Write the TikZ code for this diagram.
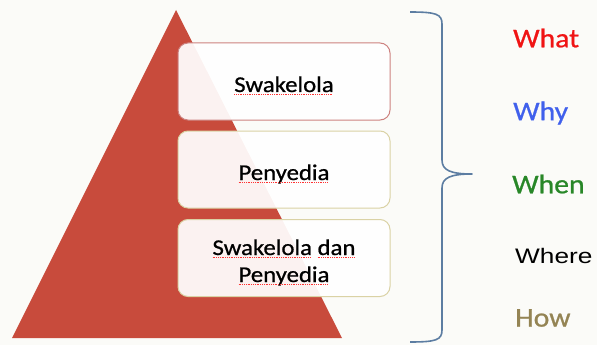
\documentclass[tikz,border=0pt]{standalone}
\usepackage{fontspec}
\setmainfont{Carlito}
\newfontfamily\boxfont[FakeStretch=1.1,FakeBold=0.8]{Carlito}
\newfontfamily\qfont[FakeStretch=1.1,FakeBold=0.8]{Carlito}
\newfontfamily\arialfont[FakeStretch=1.25]{Liberation Sans}
\definecolor{pyrred}{RGB}{200,75,60}
\definecolor{bgpaper}{RGB}{251,251,248}
\definecolor{bracecol}{RGB}{92,125,162}
\definecolor{edgeA}{RGB}{205,130,128}
\definecolor{edgeB}{RGB}{218,210,165}
\definecolor{qred}{RGB}{240,20,20}
\definecolor{qblue}{RGB}{64,96,236}
\definecolor{qgreen}{RGB}{40,135,40}
\definecolor{qkhaki}{RGB}{148,132,84}
% red dotted spell-check underline
\newsavebox\spellbox
\newcommand\spellmark[1]{\sbox\spellbox{#1}\rlap{\usebox\spellbox}%
  \raisebox{-2.8pt}{\textcolor{red!80}{\hbox to \wd\spellbox{\leaders\hbox{\rule{0.9pt}{0.5pt}\hspace{0.9pt}}\hfill}}}}
\begin{document}
\begin{tikzpicture}[x=1pt,y=-1pt,
  tier/.style={draw=#1,line width=1pt,rounded corners=10pt,fill=white,fill opacity=0.93,
    minimum width=212pt,minimum height=77pt,inner sep=0pt},
  tiertext/.style={anchor=base,inner sep=0pt,font=\boxfont\fontsize{22.5}{27}\selectfont},
  qword/.style={anchor=west,inner sep=0pt,font=\qfont\fontsize{27}{30}\selectfont}]
  \useasboundingbox (0,0) rectangle (597,345);
  \fill[bgpaper] (0,0) rectangle (597,345);
  % pyramid
  \fill[pyrred] (176,10) -- (342,338) -- (12,338) -- cycle;
  % tiers
  \node[tier=edgeA] (t1) at (284,81.5) {};
  \node[tier=edgeB] (t2) at (284,169.5) {};
  \node[tier=edgeB] (t3) at (284,258) {};
  \node[tiertext] (t1a) at (284,92) {\spellmark{Swakelola}};
  \node[tiertext] (t2a) at (284,180) {\spellmark{Penyedia}};
  \node[tiertext] (t3a) at (284,255) {\spellmark{Swakelola} \spellmark{dan}};
  \node[tiertext] (t3b) at (284,282) {\spellmark{Penyedia}};
  % brace
  \coordinate (btop) at (410,12);
  \coordinate (bbot) at (410,342);
  \coordinate (btip) at (472,174);
  \draw[bracecol,line width=1.6pt,line join=round]
    (btop) .. controls (436,12) and (442,14) .. (442,24)
    -- (442,160) .. controls (442,170) and (450,174) .. (btip)
    .. controls (450,174) and (442,178) .. (442,188)
    -- (442,330) .. controls (442,340) and (436,342) .. (bbot);
  % questions
  \node[qword,text=qred] (what) at (513,38) {What};
  \node[qword,text=qblue] (why) at (513,113) {Why};
  \node[qword,text=qgreen] (when) at (512,184) {When};
  \node[anchor=west,inner sep=0pt,font=\arialfont\fontsize{21}{24}\selectfont] (where) at (515,256) {Where};
  \node[qword,text=qkhaki] (how) at (515,318) {How};
\end{tikzpicture}
\end{document}
